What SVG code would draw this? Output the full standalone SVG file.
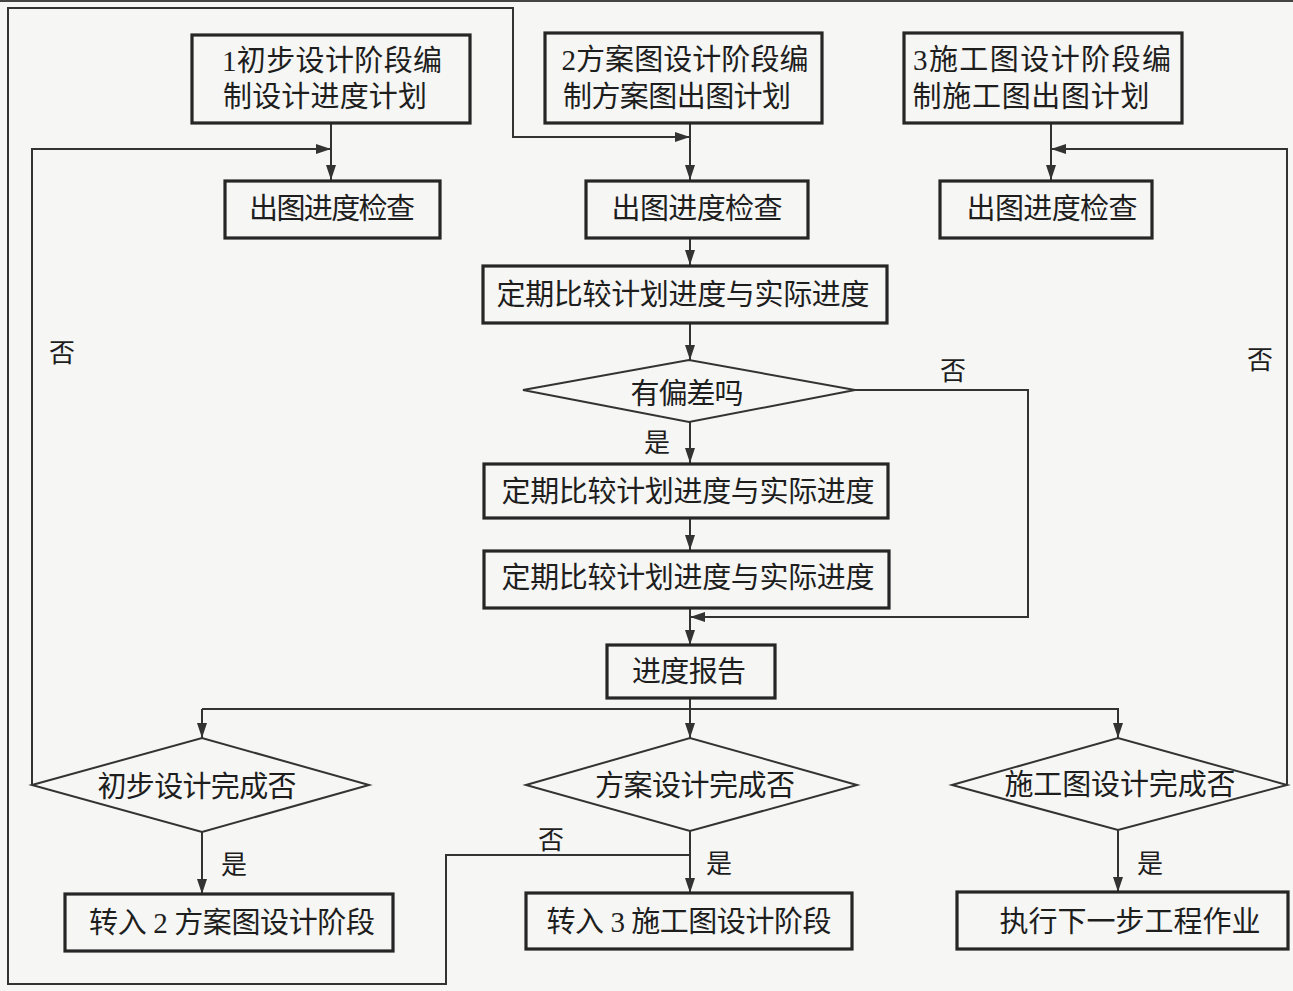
<svg xmlns="http://www.w3.org/2000/svg" width="1293" height="991" viewBox="0 0 1293 991">
<defs>
<marker id="ah" markerUnits="userSpaceOnUse" markerWidth="16" markerHeight="10" refX="15" refY="5" orient="auto">
<path d="M0,0 L15,5 L0,10 Z" fill="#333"/>
</marker>
</defs>
<style>
.box{fill:none;stroke:#262626;stroke-width:3.2}
.dia{fill:none;stroke:#333;stroke-width:2}
.t{font-family:"Liberation Serif","Noto Sans CJK SC",serif;font-size:29px;fill:#1e1e1e;text-anchor:middle;dominant-baseline:central}
.l{font-family:"Noto Sans CJK SC",sans-serif;font-size:26px;fill:#1e1e1e;text-anchor:middle;dominant-baseline:central}
.c{fill:none;stroke:#333;stroke-width:2}
.ca{fill:none;stroke:#333;stroke-width:2;marker-end:url(#ah)}
</style>
<rect x="0" y="0" width="1293" height="991" fill="#f6f6f4"/>
<rect x="0" y="0" width="1293" height="2" fill="#444"/>

<g id="connectors">
<path class="ca" d="M331,123 L331,180"/>
<path class="ca" d="M690,123 L690,180"/>
<path class="ca" d="M1051,123 L1051,180"/>
<path class="ca" d="M690,238 L690,265"/>
<path class="ca" d="M690,323 L690,360"/>
<path class="ca" d="M690,422 L690,463"/>
<path class="ca" d="M690,518 L690,550"/>
<path class="ca" d="M690,608 L690,645"/>
<path class="ca" d="M855,390 L1028,390 L1028,617 L690,617"/>
<path class="c" d="M690,698 L690,709"/>
<path class="ca" d="M202,709 L202,738"/>
<path class="ca" d="M690,709 L690,738"/>
<path class="ca" d="M202,709 L1118,709 L1118,738"/>
<path class="ca" d="M32,785 L32,149 L331,149"/>
<path class="ca" d="M1287,785 L1287,149 L1051,149"/>
<path class="ca" d="M202,832 L202,894"/>
<path class="ca" d="M690,831 L690,893"/>
<path class="ca" d="M1118,830 L1118,892"/>
<path class="ca" d="M690,855 L446,855 L446,984 L8,984 L8,8 L513,8 L513,137 L690,137"/>
</g>

<g id="n1"><rect class="box" x="192" y="35" width="278" height="88"/>
<text class="t" x="332" y="61" textLength="220" lengthAdjust="spacing">1初步设计阶段编</text>
<text class="t" x="325" y="97" textLength="204" lengthAdjust="spacing">制设计进度计划</text></g>
<g id="n2"><rect class="box" x="545" y="33" width="277" height="90"/>
<text class="t" x="685" y="60" textLength="247" lengthAdjust="spacing">2方案图设计阶段编</text>
<text class="t" x="677" y="97" textLength="228" lengthAdjust="spacing">制方案图出图计划</text></g>
<g id="n3"><rect class="box" x="904" y="33" width="278" height="90"/>
<text class="t" x="1042" y="60" textLength="258" lengthAdjust="spacing">3施工图设计阶段编</text>
<text class="t" x="1031" y="97" textLength="237" lengthAdjust="spacing">制施工图出图计划</text></g>

<g id="c1"><rect class="box" x="225" y="181" width="215" height="57"/>
<text class="t" x="332" y="209" textLength="166" lengthAdjust="spacing">出图进度检查</text></g>
<g id="c2"><rect class="box" x="586" y="181" width="222" height="57"/>
<text class="t" x="697" y="209" textLength="171" lengthAdjust="spacing">出图进度检查</text></g>
<g id="c3"><rect class="box" x="940" y="181" width="212" height="57"/>
<text class="t" x="1052" y="209" textLength="171" lengthAdjust="spacing">出图进度检查</text></g>

<g id="p1"><rect class="box" x="483" y="266" width="404" height="57"/>
<text class="t" x="683" y="295" textLength="373" lengthAdjust="spacing">定期比较计划进度与实际进度</text></g>
<g id="d0"><polygon class="dia" points="523,390 689,360 855,390 689,422"/>
<text class="t" x="687" y="394" textLength="113" lengthAdjust="spacing">有偏差吗</text></g>
<g id="p2"><rect class="box" x="484" y="464" width="404" height="54"/>
<text class="t" x="688" y="492" textLength="373" lengthAdjust="spacing">定期比较计划进度与实际进度</text></g>
<g id="p3"><rect class="box" x="484" y="551" width="405" height="57"/>
<text class="t" x="688" y="578" textLength="373" lengthAdjust="spacing">定期比较计划进度与实际进度</text></g>
<g id="r"><rect class="box" x="607" y="645" width="168" height="53"/>
<text class="t" x="689" y="672" textLength="114" lengthAdjust="spacing">进度报告</text></g>

<g id="d1"><polygon class="dia" points="32,785 202,738 369,785 202,832"/>
<text class="t" x="197" y="787" textLength="199" lengthAdjust="spacing">初步设计完成否</text></g>
<g id="d2"><polygon class="dia" points="526,785 690,738 857,785 690,831"/>
<text class="t" x="695" y="786" textLength="200" lengthAdjust="spacing">方案设计完成否</text></g>
<g id="d3"><polygon class="dia" points="952,785 1118,738 1287,785 1118,830"/>
<text class="t" x="1120" y="785" textLength="231" lengthAdjust="spacing">施工图设计完成否</text></g>

<g id="b1"><rect class="box" x="65" y="894" width="328" height="57"/>
<text class="t" x="232" y="923" textLength="286" lengthAdjust="spacing">转入 2 方案图设计阶段</text></g>
<g id="b2"><rect class="box" x="526" y="893" width="326" height="56"/>
<text class="t" x="689" y="922" textLength="285" lengthAdjust="spacing">转入 3 施工图设计阶段</text></g>
<g id="b3"><rect class="box" x="957" y="892" width="331" height="57"/>
<text class="t" x="1130" y="922" textLength="261" lengthAdjust="spacing">执行下一步工程作业</text></g>

<g id="labels">
<text class="l" x="62" y="350">否</text>
<text class="l" x="953" y="368">否</text>
<text class="l" x="657" y="440">是</text>
<text class="l" x="1260" y="357">否</text>
<text class="l" x="234" y="862">是</text>
<text class="l" x="551" y="837">否</text>
<text class="l" x="719" y="861">是</text>
<text class="l" x="1150" y="861">是</text>
</g>
</svg>
